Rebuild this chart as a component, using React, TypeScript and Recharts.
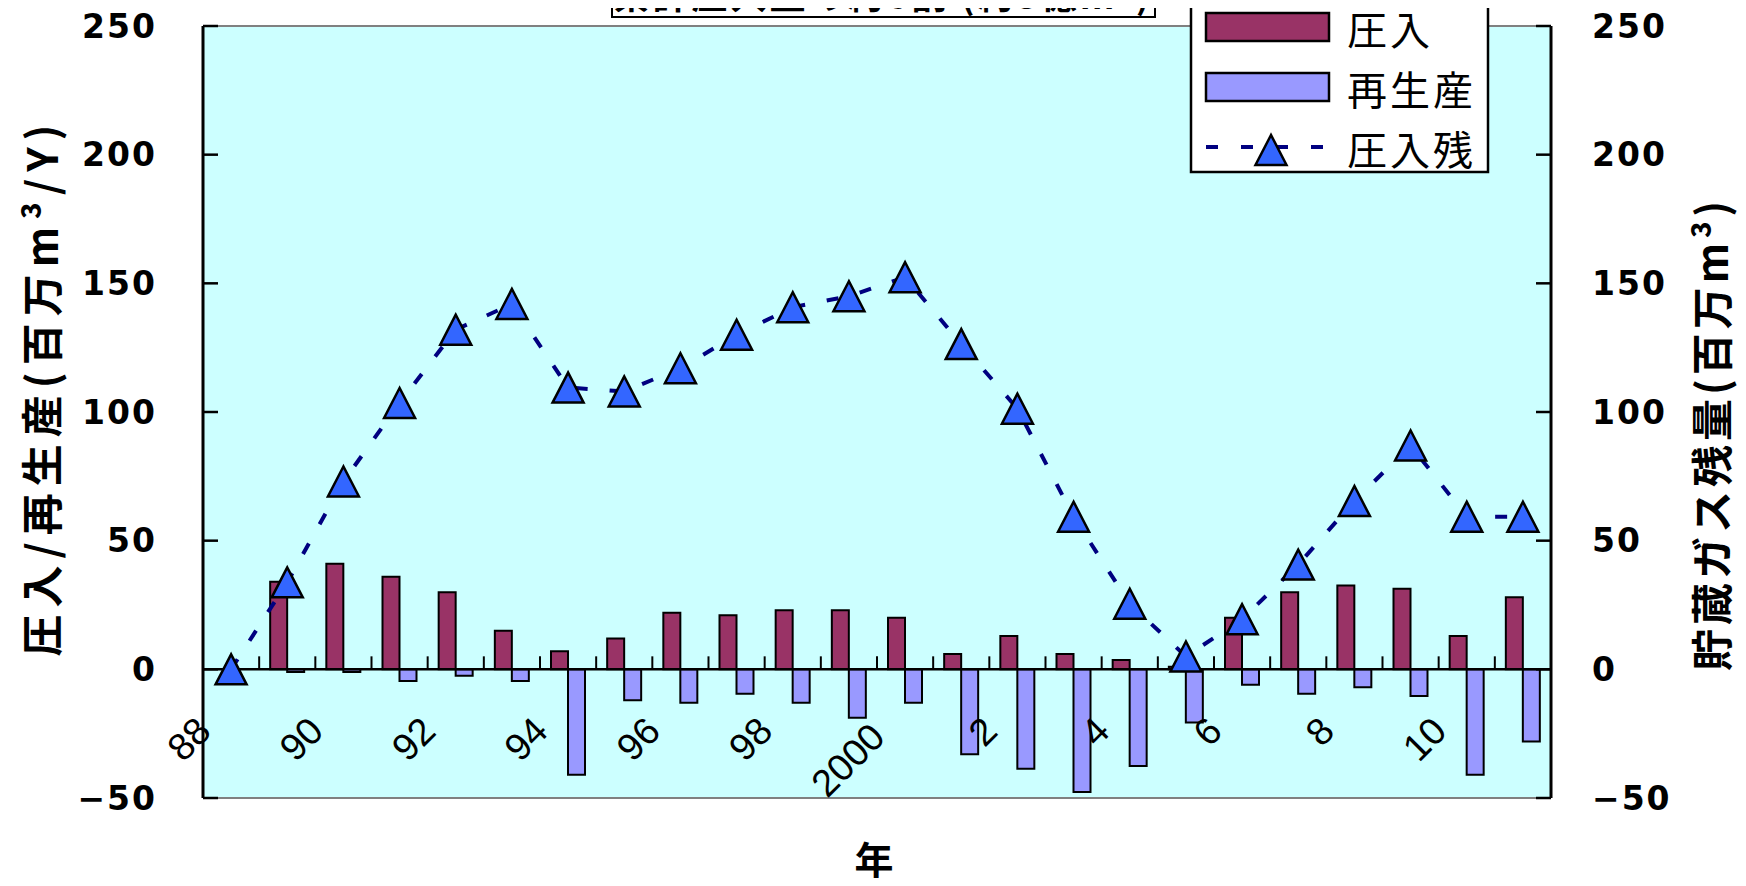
import React from 'react';
import {
  ComposedChart,
  Bar,
  Line,
  XAxis,
  YAxis,
  CartesianGrid,
  ReferenceLine,
} from 'recharts';

// ---- data ----
const categories = ['88', '89', '90', '91', '92', '93', '94', '95', '96', '97', '98', '99', '2000', '1', '2', '3', '4', '5', '6', '7', '8', '9', '10', '11'];
const injection = [null, 34, 41, 36, 30, 15, 7, 12, 22, 21, 23, 23, 20, 6, 13, 6, 3.6, 1, 20, 30, 32.6, 31.3, 13, 28];
const reproduction = [null, -1, -1, -4.5, -2.5, -4.5, -41, -12, -13, -9.5, -13, -18.8, -13, -33, -38.6, -47.7, -37.6, -20.7, -6, -9.5, -7, -10.4, -41, -28];
const remaining = [0, 33.8, 73, 103.5, 132, 142, 109.5, 108, 117, 130, 140.7, 145, 152.4, 126.4, 101.3, 59.3, 25.5, 5, 19.5, 40.7, 65.4, 87, 59.3, 59.3];
const yTicks = [-50, 0, 50, 100, 150, 200, 250];

const data = categories.map((c, i) => ({
  year: c,
  inj: injection[i],
  rep: reproduction[i],
  rem: remaining[i],
}));

// ---- layout ----
const W = 1746;
const H = 886;
const M_TOP = 26;
const M_BOTTOM = 88;
const LEFT_W = 203;
const RIGHT_W = 195;
const Y_MIN = -50;
const Y_MAX = 250;
const PLOT_H = H - M_TOP - M_BOTTOM;
const PLOT_W = W - LEFT_W - RIGHT_W;
const BAND = PLOT_W / categories.length;

const NUM_FONT = '"DejaVu Sans", sans-serif';
const JP_FONT = '"Noto Sans CJK JP", sans-serif';

const fmt = (v: number) => (v < 0 ? '\u2212' + Math.abs(v) : String(v));

const LeftTick = (props: any) => {
  const { x, y, payload } = props;
  return (
    <g>
      <text x={x} y={y} textAnchor="end" dominantBaseline="central" fontFamily={NUM_FONT} fontWeight="bold" fontSize={33} letterSpacing={2} fill="#000">
        {fmt(payload.value)}
      </text>
      <line x1={x + 46} x2={x + 46 + 15} y1={y} y2={y} stroke="#000" strokeWidth={2.5} />
    </g>
  );
};

const RightTick = (props: any) => {
  const { x, y, payload } = props;
  return (
    <g>
      <text x={x} y={y} textAnchor="start" dominantBaseline="central" fontFamily={NUM_FONT} fontWeight="bold" fontSize={33} letterSpacing={2} fill="#000">
        {fmt(payload.value)}
      </text>
      <line x1={x - 41} x2={x - 41 - 15} y1={y} y2={y} stroke="#000" strokeWidth={2.5} />
    </g>
  );
};

const XTick = (props: any) => {
  const { x, y, payload, index } = props;
  const zeroY = y - (PLOT_H * (0 - Y_MIN)) / (Y_MAX - Y_MIN);
  const bx = x - BAND / 2;
  const show = index % 2 === 0;
  const len = String(payload.value).length;
  const ax = x - 18;
  const ay = zeroY + 64 + (len > 2 ? 6 : 0);
  return (
    <g>
      <line x1={bx} x2={bx} y1={zeroY} y2={zeroY - 13} stroke="#000" strokeWidth={2} />
      {show && (
        <text x={ax} y={ay} textAnchor="end" transform={`rotate(-45, ${ax}, ${ay})`} fontFamily='"Liberation Sans", Arial, sans-serif' fontSize={38} fill="#000">
          {payload.value}
        </text>
      )}
    </g>
  );
};

const TriangleDot = (props: any) => {
  const { cx, cy } = props;
  if (cx == null || cy == null) return null;
  return (
    <polygon
      points={`${cx},${cy - 15} ${cx - 15.5},${cy + 15} ${cx + 15.5},${cy + 15}`}
      fill="#3366FF"
      stroke="#000"
      strokeWidth={2.5}
      strokeLinejoin="miter"
    />
  );
};

export default function App() {
  return (
    <div style={{ margin: -8, width: W, height: H, position: 'relative', overflow: 'hidden', background: '#fff' }}>
      <ComposedChart
        width={W}
        height={H}
        data={data}
        margin={{ top: M_TOP, right: 0, bottom: 0, left: 0 }}
        barGap={0}
      >
        <CartesianGrid fill="#CCFFFF" horizontal={false} vertical={false} stroke="none" yAxisId="left" />
        <XAxis
          dataKey="year"
          height={M_BOTTOM}
          interval={0}
          axisLine={false}
          tickLine={false}
          tickSize={0}
          tickMargin={0}
          tick={<XTick />}
        />
        <YAxis
          yAxisId="left"
          domain={[Y_MIN, Y_MAX]}
          ticks={yTicks}
          width={LEFT_W}
          tickLine={false}
          tickSize={0}
          tickMargin={46}
          axisLine={{ stroke: '#000', strokeWidth: 3 }}
          tick={<LeftTick />}
          allowDataOverflow
        />
        <YAxis
          yAxisId="right"
          orientation="right"
          domain={[Y_MIN, Y_MAX]}
          ticks={yTicks}
          width={RIGHT_W}
          tickLine={false}
          tickSize={0}
          tickMargin={41}
          axisLine={{ stroke: '#000', strokeWidth: 3 }}
          tick={<RightTick />}
          allowDataOverflow
        />
        <ReferenceLine yAxisId="left" y={Y_MAX} stroke="#808080" strokeWidth={2} />
        <ReferenceLine yAxisId="left" y={Y_MIN} stroke="#808080" strokeWidth={2} />
        <ReferenceLine yAxisId="left" y={0} stroke="#000" strokeWidth={2.5} />
        <Bar yAxisId="left" dataKey="inj" fill="#993366" stroke="#000" strokeWidth={2} barSize={17} isAnimationActive={false} />
        <Bar yAxisId="left" dataKey="rep" fill="#9999FF" stroke="#000" strokeWidth={2} barSize={17} isAnimationActive={false} />
        <Line
          yAxisId="right"
          dataKey="rem"
          type="linear"
          stroke="#000080"
          strokeWidth={4}
          strokeDasharray="12 22"
          dot={<TriangleDot />}
          activeDot={false}
          isAnimationActive={false}
        />
      </ComposedChart>

      <svg width={W} height={H} style={{ position: 'absolute', left: 0, top: 0, pointerEvents: 'none' }}>
        {/* axis titles */}
        <text
          x={39}
          y={387}
          transform="rotate(-90, 39, 387)"
          textAnchor="middle"
          dominantBaseline="central"
          fontFamily={JP_FONT}
          fontWeight="bold"
          fontSize={42}
          letterSpacing={7}
          fill="#000"
        >
          圧入/再生産(百万m³/Y)
        </text>
        <text
          x={1709}
          y={434}
          transform="rotate(-90, 1709, 434)"
          textAnchor="middle"
          dominantBaseline="central"
          fontFamily={JP_FONT}
          fontWeight="bold"
          fontSize={42}
          letterSpacing={4}
          fill="#000"
        >
          貯蔵ガス残量(百万m³)
        </text>
        <text x={874} y={858} textAnchor="middle" dominantBaseline="central" fontFamily={JP_FONT} fontWeight="bold" fontSize={39} fill="#000">
          年
        </text>

        {/* title box (cut off at top) */}
        <rect x={612} y={-50} width={543} height={67} fill="#fff" stroke="#000" strokeWidth={2} />
        <text x={883} y={9} textAnchor="middle" fontFamily={JP_FONT} fontWeight="bold" fontSize={36} letterSpacing={3} fill="#000">
          累計圧入量の約6割 (約3億m³)
        </text>

        {/* legend */}
        <rect x={1191} y={-10} width={297} height={182} fill="#fff" stroke="#000" strokeWidth={2.5} />
        <rect x={1206} y={13} width={123} height={28} fill="#993366" stroke="#000" strokeWidth={2.5} />
        <text x={1347} y={28} dominantBaseline="central" fontFamily={JP_FONT} fontSize={40} letterSpacing={3} fill="#000">
          圧入
        </text>
        <rect x={1206} y={73} width={123} height={28} fill="#9999FF" stroke="#000" strokeWidth={2.5} />
        <text x={1347} y={88} dominantBaseline="central" fontFamily={JP_FONT} fontSize={40} letterSpacing={3} fill="#000">
          再生産
        </text>
        <line x1={1206} x2={1329} y1={147} y2={147} stroke="#000080" strokeWidth={4} strokeDasharray="12 23" />
        <polygon points="1271,135 1255.5,165 1286.5,165" fill="#3366FF" stroke="#000" strokeWidth={2.5} />
        <text x={1347} y={148} dominantBaseline="central" fontFamily={JP_FONT} fontSize={40} letterSpacing={3} fill="#000">
          圧入残
        </text>
      </svg>
    </div>
  );
}
